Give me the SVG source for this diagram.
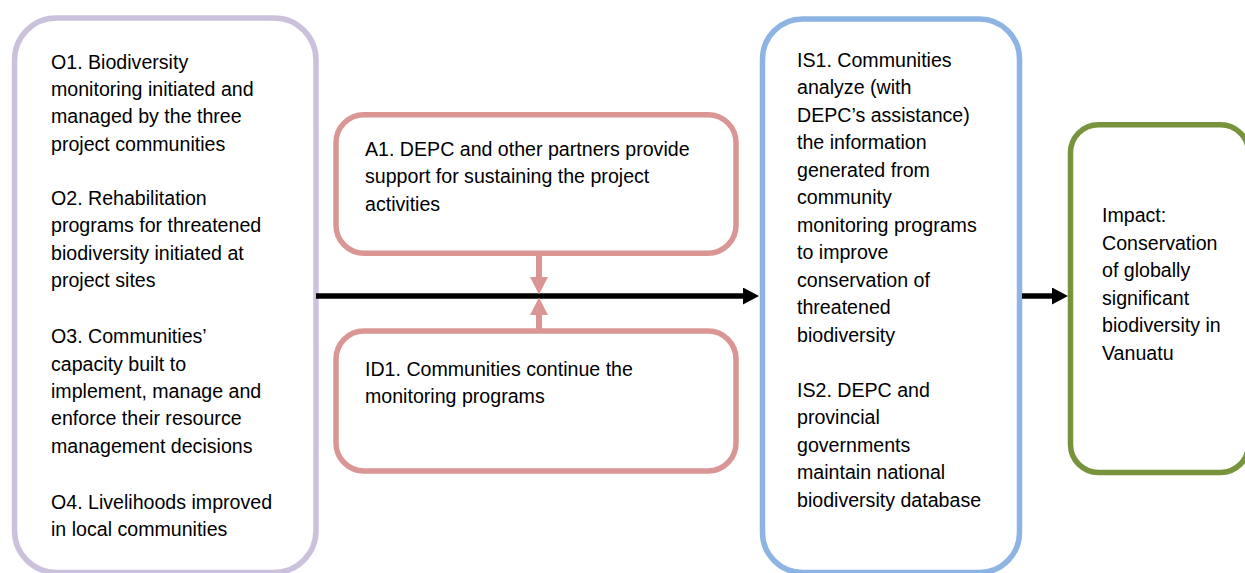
<svg xmlns="http://www.w3.org/2000/svg" width="1245" height="573" viewBox="0 0 1245 573">
  <style>
    .box { fill: #ffffff; stroke-width: 5.5; }
    .lav { stroke: #CBC1DC; }
    .pink { stroke: #D99694; }
    .blue { stroke: #8EB4E3; }
    .green { stroke: #77933C; }
    text { font-family: "Liberation Sans", Arial, sans-serif; font-size: 19.6px; fill: #000000; }
    .conn-black { stroke: #000000; stroke-width: 5.5; fill: none; }
    .conn-pink { stroke: #D99694; stroke-width: 6; fill: none; }
  </style>
  <defs>
    <marker id="arrowBlack" markerUnits="userSpaceOnUse" markerWidth="17" markerHeight="18" refX="1" refY="8.5" orient="auto">
      <path d="M0,0 L16,8.5 L0,17 Z" fill="#000000"/>
    </marker>
    <marker id="arrowPink" markerUnits="userSpaceOnUse" markerWidth="19" markerHeight="19" refX="1" refY="9" orient="auto">
      <path d="M0,0 L17.5,9 L0,18 Z" fill="#D99694"/>
    </marker>
  </defs>
  <rect width="1245" height="573" fill="#ffffff"/>

  <g id="outcomes">
    <rect class="box lav" x="14.5" y="18" width="301.5" height="554.5" rx="42" ry="42"/>
    <text x="51" y="68.5">O1. Biodiversity</text>
    <text x="51" y="96">monitoring initiated and</text>
    <text x="51" y="123">managed by the three</text>
    <text x="51" y="150.5">project communities</text>
    <text x="51" y="205">O2. Rehabilitation</text>
    <text x="51" y="232">programs for threatened</text>
    <text x="51" y="259.5">biodiversity initiated at</text>
    <text x="51" y="287">project sites</text>
    <text x="51" y="343">O3. Communities’</text>
    <text x="51" y="370.5">capacity built to</text>
    <text x="51" y="398">implement, manage and</text>
    <text x="51" y="425">enforce their resource</text>
    <text x="51" y="452.5">management decisions</text>
    <text x="51" y="508.5">O4. Livelihoods improved</text>
    <text x="51" y="536">in local communities</text>
  </g>

  <g id="assumption">
    <rect class="box pink" x="336" y="114.7" width="400" height="138.5" rx="28" ry="28"/>
    <text x="365" y="155.5">A1. DEPC and other partners provide</text>
    <text x="365" y="183">support for sustaining the project</text>
    <text x="365" y="210.5">activities</text>
  </g>

  <g id="impact-driver">
    <rect class="box pink" x="336" y="331" width="400" height="140" rx="28" ry="28"/>
    <text x="365" y="376">ID1. Communities continue the</text>
    <text x="365" y="403">monitoring programs</text>
  </g>

  <g id="intermediate-states">
    <rect class="box blue" x="762.5" y="19" width="257" height="553.5" rx="40" ry="40"/>
    <text x="797" y="66.5">IS1. Communities</text>
    <text x="797" y="94">analyze (with</text>
    <text x="797" y="121.5">DEPC’s assistance)</text>
    <text x="797" y="149">the information</text>
    <text x="797" y="176.5">generated from</text>
    <text x="797" y="204">community</text>
    <text x="797" y="231.5">monitoring programs</text>
    <text x="797" y="259">to improve</text>
    <text x="797" y="286.5">conservation of</text>
    <text x="797" y="314">threatened</text>
    <text x="797" y="341.5">biodiversity</text>
    <text x="797" y="396.5">IS2. DEPC and</text>
    <text x="797" y="424">provincial</text>
    <text x="797" y="451.5">governments</text>
    <text x="797" y="479">maintain national</text>
    <text x="797" y="506.5">biodiversity database</text>
  </g>

  <g id="impact">
    <rect class="box green" x="1070.5" y="124.7" width="178" height="347.8" rx="28" ry="28"/>
    <text x="1102" y="222">Impact:</text>
    <text x="1102" y="249.5">Conservation</text>
    <text x="1102" y="277">of globally</text>
    <text x="1102" y="304.5">significant</text>
    <text x="1102" y="332">biodiversity in</text>
    <text x="1102" y="359.5">Vanuatu</text>
  </g>

  <g id="connectors">
    <line class="conn-black" x1="316" y1="296" x2="744" y2="296" marker-end="url(#arrowBlack)"/>
    <line class="conn-black" x1="1022" y1="296" x2="1053" y2="296" marker-end="url(#arrowBlack)"/>
    <line class="conn-pink" x1="539" y1="255.5" x2="539" y2="278" marker-end="url(#arrowPink)"/>
    <line class="conn-pink" x1="539" y1="329" x2="539" y2="314" marker-end="url(#arrowPink)"/>
  </g>
</svg>
